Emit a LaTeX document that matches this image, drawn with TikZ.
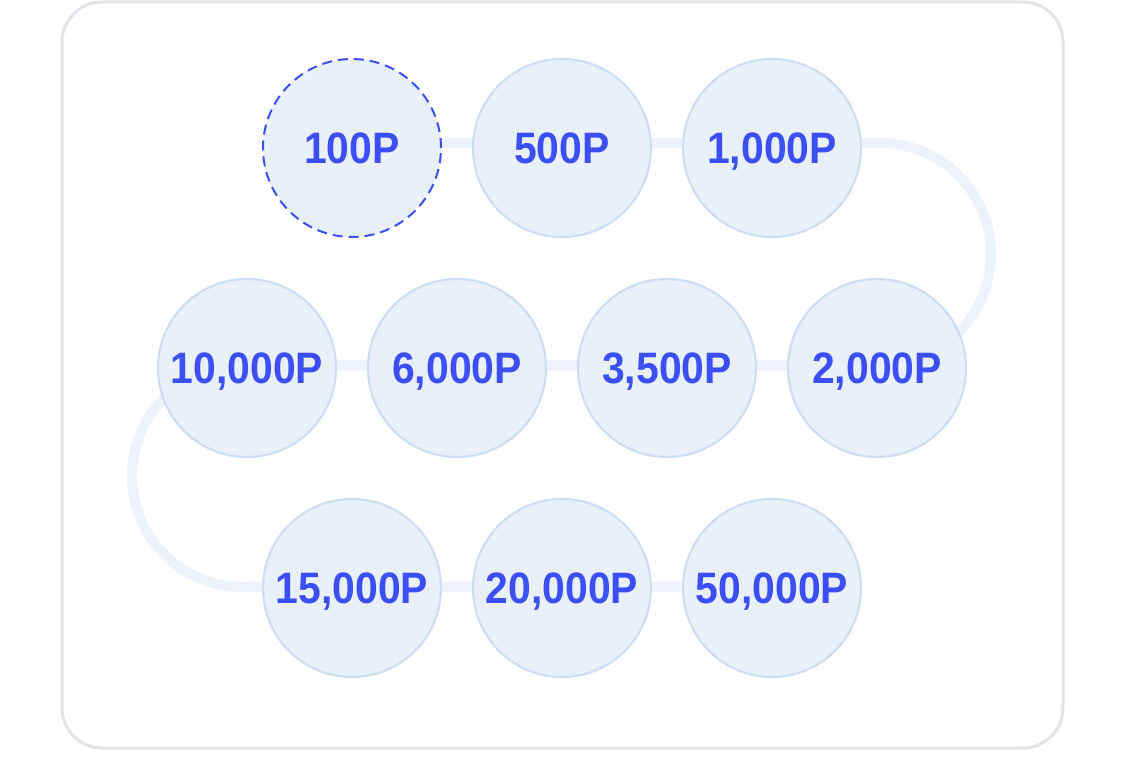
\documentclass[tikz,border=0pt]{standalone}
\usepackage{fontspec}
\setmainfont{Liberation Sans}
\usetikzlibrary{backgrounds}
\definecolor{frame}{HTML}{E3E3EA}
\definecolor{conn}{HTML}{EDF3FC}
\definecolor{cfill}{HTML}{E8F0FA}
\definecolor{cborder}{HTML}{CCDEF4}
\definecolor{ctext}{HTML}{3C4EF5}
\tikzset{
  outerframe/.style={draw=frame, line width=2.25pt, rounded corners=30pt},
  pathline/.style={draw=conn, line width=7.5pt},
  coin/.style={circle, minimum size=133.5pt, inner sep=0pt, fill=cfill, draw=cborder, line width=1.6pt,
    text=ctext, font=\fontsize{33}{38}\selectfont\bfseries, text height=23.6pt, text depth=0pt},
  firstcoin/.style={coin, draw=ctext, line width=1.5pt, dash pattern=on 7.5pt off 4.5pt}
}
\newcommand{\amt}[1]{\scalebox{0.93}[1]{#1}}
\begin{document}
\begin{tikzpicture}[x=0.75pt,y=0.75pt]
\useasboundingbox (0,0) rectangle (1125,-774);
% nodes
\node[firstcoin] (n1) at (352,-148) {\amt{100P}};
\node[coin] (n2) at (562,-148) {\amt{500P}};
\node[coin] (n3) at (772,-148) {\amt{1,000P}};
\node[coin] (n4) at (877,-368) {\amt{2,000P}};
\node[coin] (n5) at (667,-368) {\amt{3,500P}};
\node[coin] (n6) at (457,-368) {\amt{6,000P}};
\node[coin] (n7) at (247,-368) {\amt{10,000P}};
\node[coin] (n8) at (352,-588) {\amt{15,000P}};
\node[coin] (n9) at (562,-588) {\amt{20,000P}};
\node[coin] (n10) at (772,-588) {\amt{50,000P}};
\coordinate (rt) at (880,-143);
\coordinate (lt) at (243,-365);
\begin{scope}[on background layer]
\draw[outerframe] (62,-2) rectangle (1063,-748);
\draw[pathline] ([yshift=3.75pt]n1.center) -- ([yshift=3.75pt]n2.center) -- ([yshift=3.75pt]n3.center)
  -- (rt) arc[start angle=90, end angle=-90, radius=111]
  -- ([yshift=2pt]n4.center) -- ([yshift=2pt]n5.center) -- ([yshift=2pt]n6.center) -- ([yshift=2pt]n7.center)
  -- (lt) arc[start angle=90, end angle=270, radius=111]
  -- ([yshift=1pt]n8.center) -- ([yshift=1pt]n9.center) -- ([yshift=1pt]n10.center);
\end{scope}
\end{tikzpicture}
\end{document}
